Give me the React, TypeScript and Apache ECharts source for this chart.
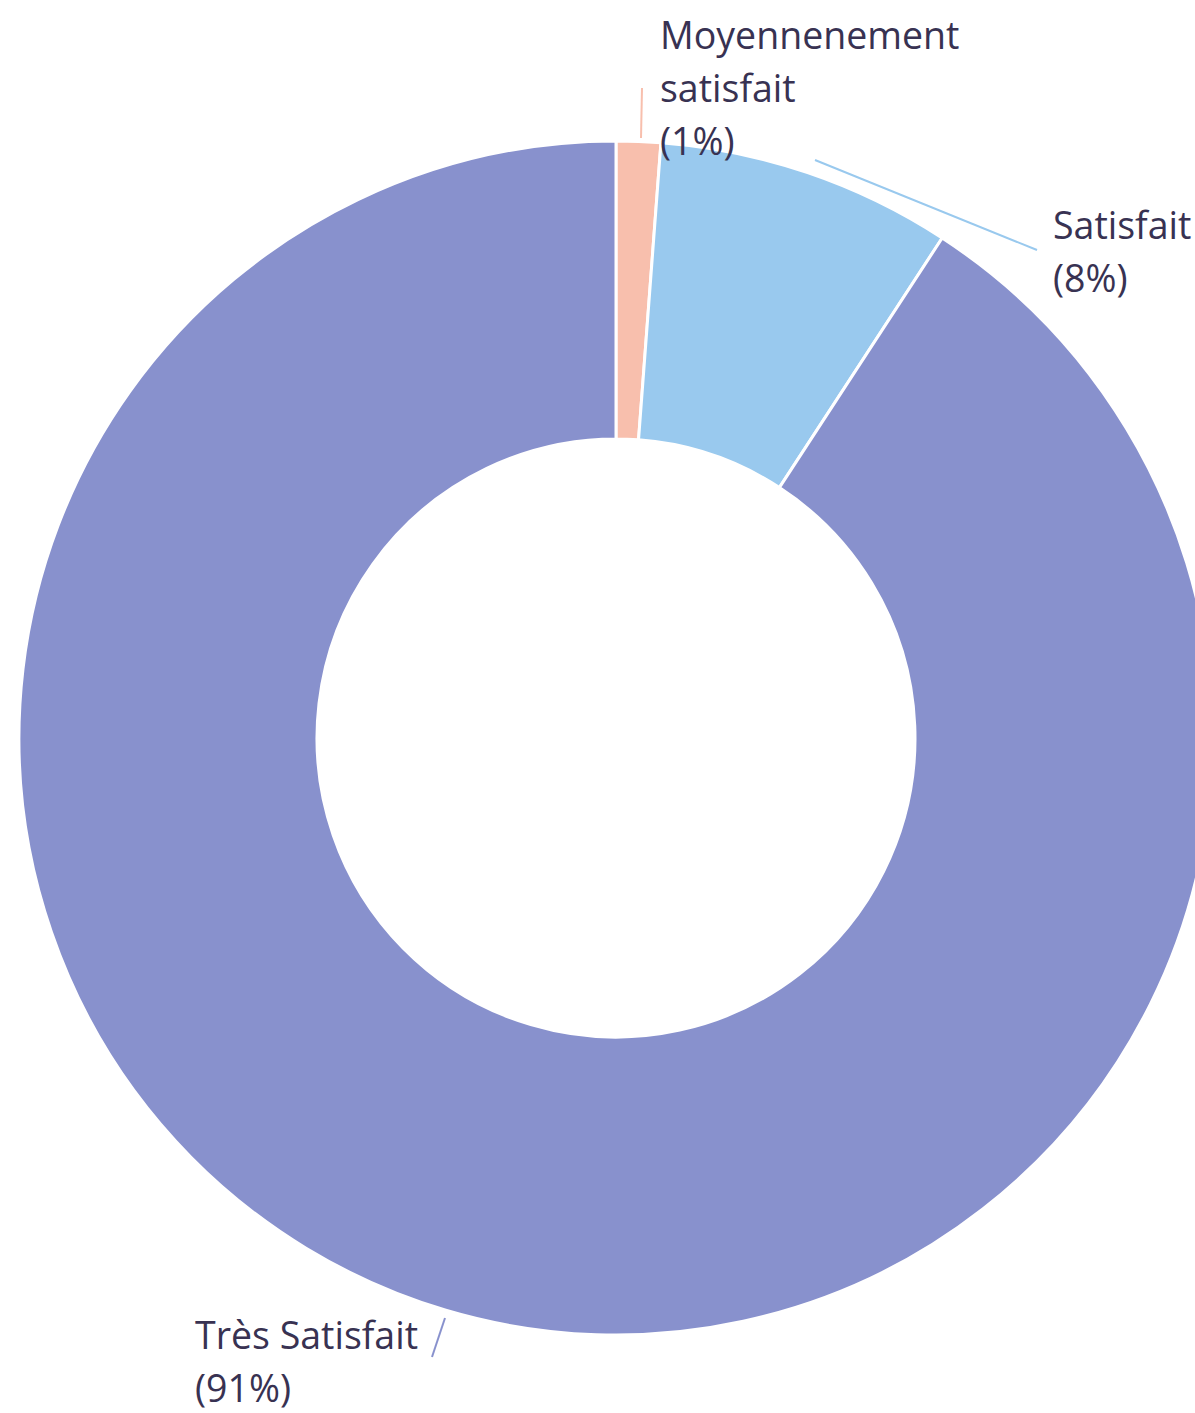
import React, { useEffect, useRef } from "react";
import * as echarts from "echarts";

const categories = ["Moyennenement satisfait", "Satisfait", "Très Satisfait"];
const labelTexts = ["Moyennenement\nsatisfait", "Satisfait", "Très Satisfait"];
const values = [1.2, 8.0, 90.8];
const colors = ["#F8BFAD", "#99C9EE", "#8891CD"];

const labelPos = [
  { x: 660, y: 8, line: [[641, 138], [642, 88], [642, 88]] },
  { x: 1053, y: 198, line: [[815, 160], [1037, 250], [1037, 250]] },
  { x: 195, y: 1308, line: [[445, 1318], [432, 1357], [432, 1357]] },
];

export default function App() {
  const ref = useRef<HTMLDivElement>(null);
  useEffect(() => {
    if (!ref.current) return;
    const chart = echarts.init(ref.current, undefined, { renderer: "svg" });
    chart.setOption({
      animation: false,
      backgroundColor: "#ffffff",
      series: [
        {
          type: "pie",
          center: [616, 738],
          radius: [299, 597],
          startAngle: 90,
          clockwise: true,
          avoidLabelOverlap: false,
          itemStyle: { borderColor: "#ffffff", borderWidth: 3 },
          label: {
            show: true,
            fontFamily: "Open Sans",
            fontSize: 37.5,
            lineHeight: 53,
            color: "#383252",
            formatter: (p: any) =>
              labelTexts[p.dataIndex] + "\n(" + Math.round(p.percent) + "%)",
          },
          labelLine: { show: true, lineStyle: { width: 2 } },
          labelLayout: (p: any) => {
            const lp = labelPos[p.dataIndex];
            return {
              x: lp.x,
              y: lp.y,
              align: "left",
              verticalAlign: "top",
              labelLinePoints: lp.line,
            };
          },
          data: categories.map((c, i) => ({
            name: c,
            value: values[i],
            itemStyle: { color: colors[i] },
          })),
        },
      ],
    });
    return () => chart.dispose();
  }, []);
  return (
    <div
      ref={ref}
      style={{ position: "absolute", left: 0, top: 0, width: 1195, height: 1413 }}
    />
  );
}
